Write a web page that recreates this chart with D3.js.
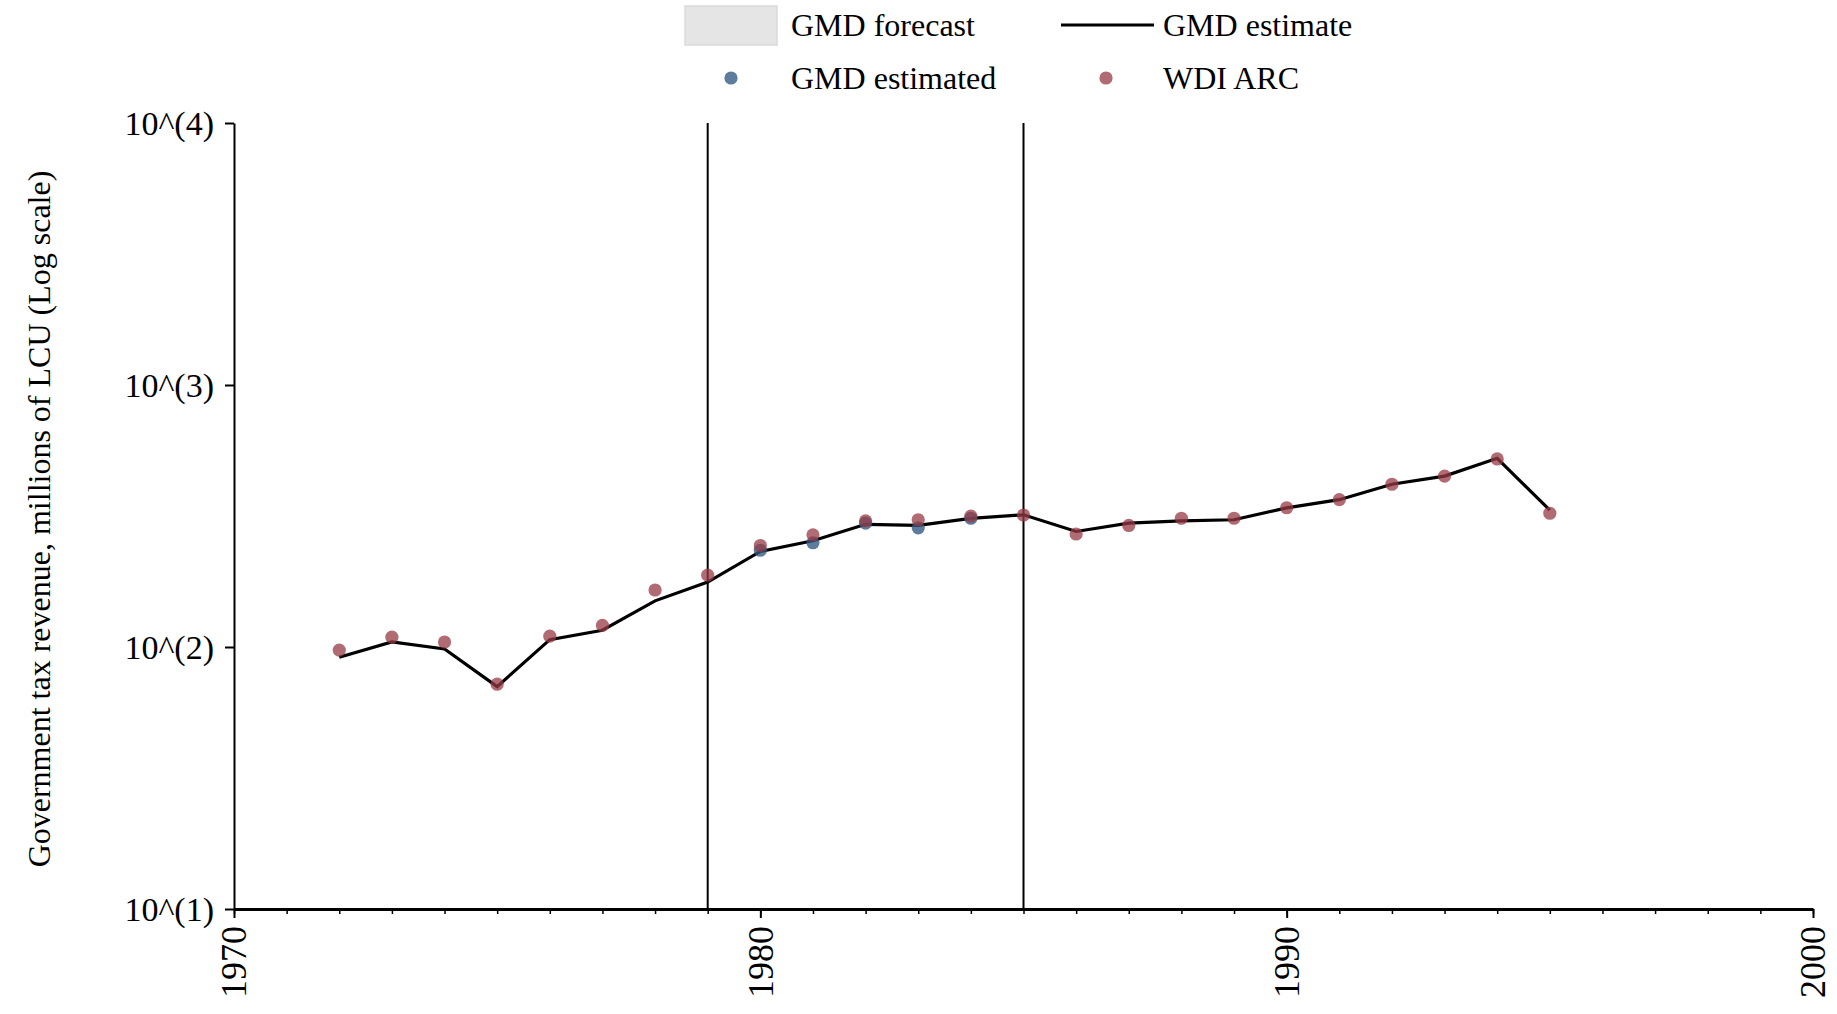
<!DOCTYPE html>
<html>
<head>
<meta charset="utf-8">
<script src="https://cdn.jsdelivr.net/npm/d3@7"></script>
<style>
  html, body { margin: 0; padding: 0; background: #fff; }
  svg { display: block; }
  text { font-family: "Liberation Serif", "Times New Roman", serif; fill: #000; }
</style>
</head>
<body>
<svg id="chart" width="1837" height="1014"></svg>
<script>
// ---- Data ----
const years = [1972, 1973, 1974, 1975, 1976, 1977, 1978, 1979, 1980, 1981, 1982, 1983,
               1984, 1985, 1986, 1987, 1988, 1989, 1990, 1991, 1992, 1993, 1994, 1995];
const gmdEstimate = [91.4, 104.5, 98.3, 70.6, 106.7, 115.9, 150, 177, 231.6, 254.5, 294, 291,
                     309.6, 319.5, 276, 297, 303, 306, 339.6, 365, 418, 449, 525, 333];
const wdiArc = [97.3, 109, 104.5, 72.1, 110, 120.9, 165, 188, 244, 268, 303, 306,
                316, 319, 270, 291, 310, 310, 340, 365, 418, 449, 522, 324];
const gmdEstimatedYears = [1980, 1981, 1982, 1983, 1984];
const gmdEstimatedValues = [234, 250, 297, 285, 310];
const verticalLineYears = [1979, 1985];
const xMajorTicks = [1970, 1980, 1990, 2000];
const xMinorTicks = d3.range(1970, 2001);
const yTicks = [10, 100, 1000, 10000];
const yTickLabels = ["10^(1)", "10^(2)", "10^(3)", "10^(4)"];
const legendLabels = ["GMD forecast", "GMD estimate", "GMD estimated", "WDI ARC"];
const yTitle = "Government tax revenue, millions of LCU (Log scale)";

// ---- Layout ----
const svg = d3.select("#chart");
const mLeft = 234, mRight = 1813, mTop = 123, mBottom = 909;
const x = d3.scaleLinear().domain([1970, 2000]).range([mLeft, mRight]);
const y = d3.scaleLog().domain([10, 10000]).range([mBottom, mTop]);

const redFill = "rgb(150,58,68)";
const blueFill = "rgb(49,89,129)";
const dotR = 6.6;

// vertical reference lines
svg.append("g").selectAll("line").data(verticalLineYears).join("line")
  .attr("x1", d => x(d)).attr("x2", d => x(d))
  .attr("y1", mTop).attr("y2", mBottom)
  .attr("stroke", "#000").attr("stroke-width", 2);

// GMD estimate line
const lineData = years.map((yr, i) => [yr, gmdEstimate[i]]);
svg.append("path").datum(lineData)
  .attr("fill", "none").attr("stroke", "#000").attr("stroke-width", 3.2)
  .attr("stroke-linejoin", "miter")
  .attr("d", d3.line().x(d => x(d[0])).y(d => y(d[1])));

// GMD estimated dots
svg.append("g").selectAll("circle").data(gmdEstimatedYears.map((yr, i) => [yr, gmdEstimatedValues[i]])).join("circle")
  .attr("cx", d => x(d[0])).attr("cy", d => y(d[1])).attr("r", dotR)
  .attr("fill", blueFill).attr("fill-opacity", 0.78);

// WDI ARC dots
svg.append("g").selectAll("circle").data(years.map((yr, i) => [yr, wdiArc[i]])).join("circle")
  .attr("cx", d => x(d[0])).attr("cy", d => y(d[1])).attr("r", dotR)
  .attr("fill", redFill).attr("fill-opacity", 0.75);

// ---- Axes ----
const xMinorAxis = d3.axisBottom(x).tickValues(xMinorTicks).tickSize(5).tickFormat("").tickSizeOuter(0);
const gxMinor = svg.append("g").attr("transform", `translate(0,${mBottom})`).call(xMinorAxis);
gxMinor.select(".domain").attr("stroke", "#000").attr("stroke-width", 3);
gxMinor.selectAll(".tick line").attr("stroke", "#000").attr("stroke-width", 1.5);

const xAxis = d3.axisBottom(x).tickValues(xMajorTicks).tickSize(9).tickFormat(d3.format("d")).tickSizeOuter(0);
const gx = svg.append("g").attr("transform", `translate(0,${mBottom})`).call(xAxis);
gx.select(".domain").remove();
gx.selectAll(".tick line").attr("stroke", "#000").attr("stroke-width", 2);
gx.selectAll(".tick text")
  .attr("font-size", 36).attr("font-family", "Liberation Serif")
  .attr("text-anchor", "end")
  .attr("transform", "rotate(-90)")
  .attr("x", -17).attr("y", 0).attr("dy", "0.33em");

const yAxis = d3.axisLeft(y).tickValues(yTicks).tickSize(9).tickSizeOuter(0)
  .tickFormat((d, i) => yTickLabels[i]);
const gy = svg.append("g").attr("transform", `translate(${mLeft},0)`).call(yAxis);
gy.select(".domain").attr("stroke", "#000").attr("stroke-width", 2);
gy.selectAll(".tick line").attr("stroke", "#000").attr("stroke-width", 2);
gy.selectAll(".tick text")
  .attr("font-size", 34).attr("font-family", "Liberation Serif")
  .attr("x", -20).attr("dy", "0.33em");

// y title
svg.append("text")
  .attr("transform", `translate(39,${(mTop + mBottom) / 2 + 3}) rotate(-90)`)
  .attr("text-anchor", "middle").attr("dy", "0.35em")
  .attr("font-size", 32)
  .text(yTitle);

// ---- Legend ----
const lg = svg.append("g").attr("font-size", 32);
lg.append("rect").attr("x", 685).attr("y", 6).attr("width", 92).attr("height", 39)
  .attr("fill", "#e5e5e5").attr("stroke", "#dadada").attr("stroke-width", 1.5);
lg.append("text").attr("x", 791).attr("y", 25).attr("dy", "0.35em").text(legendLabels[0]);
lg.append("line").attr("x1", 1061).attr("x2", 1154).attr("y1", 25).attr("y2", 25)
  .attr("stroke", "#000").attr("stroke-width", 3.2);
lg.append("text").attr("x", 1163).attr("y", 25).attr("dy", "0.35em").text(legendLabels[1]);
lg.append("circle").attr("cx", 731).attr("cy", 78).attr("r", dotR)
  .attr("fill", blueFill).attr("fill-opacity", 0.78);
lg.append("text").attr("x", 791).attr("y", 78).attr("dy", "0.35em").text(legendLabels[2]);
lg.append("circle").attr("cx", 1106).attr("cy", 78).attr("r", dotR)
  .attr("fill", redFill).attr("fill-opacity", 0.75);
lg.append("text").attr("x", 1163).attr("y", 78).attr("dy", "0.35em").text(legendLabels[3]);
</script>
</body>
</html>
